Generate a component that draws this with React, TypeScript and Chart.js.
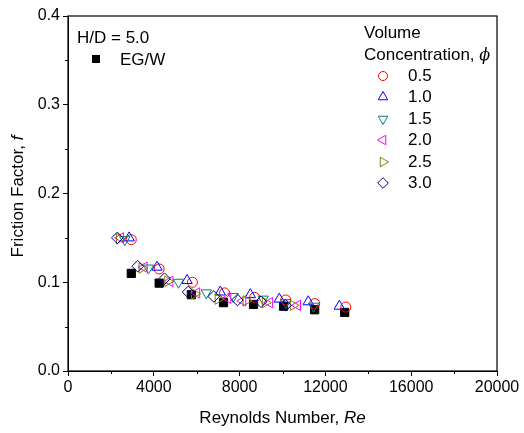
import React, { useEffect, useRef } from "react";
import { Chart, registerables } from "chart.js";
import { drawPoint } from "chart.js/helpers";

Chart.register(...registerables);

// ---- data ----
const xTickValues = [0, 4000, 8000, 12000, 16000, 20000];
const yTickValues = [0.0, 0.1, 0.2, 0.3, 0.4];

const egwRe = [2950, 4250, 5750, 7250, 8650, 10050, 11500, 12900];
const egwF = [0.110, 0.099, 0.086, 0.077, 0.075, 0.073, 0.069, 0.066];

const phi05Re = [2950, 4250, 5800, 7300, 8700, 10150, 11500, 12950];
const phi05F = [0.148, 0.115, 0.100, 0.088, 0.083, 0.080, 0.076, 0.072];

const phi10Re = [2850, 4150, 5550, 7100, 8500, 9850, 11200, 12650];
const phi10F = [0.150, 0.117, 0.102, 0.089, 0.086, 0.081, 0.078, 0.073];

const phi15Re = [2650, 3750, 5150, 6450, 7700, 9100, 10150, 11450];
const phi15F = [0.148, 0.116, 0.100, 0.088, 0.084, 0.081, 0.077, 0.073];

const phi20Re = [2450, 3550, 4750, 6000, 7450, 8150, 9400, 10700];
const phi20F = [0.150, 0.117, 0.101, 0.088, 0.082, 0.079, 0.077, 0.074];

const phi25Re = [2400, 3450, 4650, 5900, 7000, 8300, 9200, 10500];
const phi25F = [0.149, 0.116, 0.101, 0.087, 0.081, 0.079, 0.077, 0.074];

const phi30Re = [2300, 3250, 4500, 5600, 6800, 7900, 9000, 10150];
const phi30F = [0.150, 0.118, 0.104, 0.089, 0.084, 0.080, 0.078, 0.074];

const seriesLabels = ["0.5", "1.0", "1.5", "2.0", "2.5", "3.0"];

const FONT = "'Liberation Sans', Arial, sans-serif";

const toPts = (xs: number[], ys: number[]) => xs.map((x, i) => ({ x, y: ys[i] }));

type Sty = { style: any; rotation: number; color: string; radius: number };
const styles: Sty[] = [
  { style: "circle", rotation: 0, color: "#ff0000", radius: 5 },
  { style: "triangle", rotation: 0, color: "#0000ff", radius: 6 },
  { style: "triangle", rotation: 180, color: "#008080", radius: 6 },
  { style: "triangle", rotation: 270, color: "#ff00ff", radius: 6 },
  { style: "triangle", rotation: 90, color: "#808000", radius: 6 },
  { style: "rectRot", rotation: 0, color: "#000080", radius: 5.8 },
];

function drawMixed(ctx: CanvasRenderingContext2D, parts: [string, boolean][], size: number, cx: number, cy: number) {
  let total = 0;
  const widths = parts.map(([t, it]) => {
    ctx.font = `${it ? "italic " : ""}${size}px ${FONT}`;
    const w = ctx.measureText(t).width;
    total += w;
    return w;
  });
  let x = cx - total / 2;
  ctx.textBaseline = "middle";
  ctx.textAlign = "left";
  parts.forEach(([t, it], i) => {
    ctx.font = `${it ? "italic " : ""}${size}px ${FONT}`;
    ctx.fillText(t, x, cy);
    x += widths[i];
  });
}

const decorPlugin = {
  id: "decor",
  afterDraw(chart: any) {
    const { ctx, chartArea } = chart;
    const xs = chart.scales.x;
    const ys = chart.scales.y;
    ctx.save();
    // frame
    ctx.strokeStyle = "#000";
    ctx.lineWidth = 1.2;
    ctx.strokeRect(chartArea.left, chartArea.top, chartArea.right - chartArea.left, chartArea.bottom - chartArea.top);
    // minor ticks
    ctx.lineWidth = 1;
    ctx.beginPath();
    for (let v = 2000; v < 20000; v += 4000) {
      const px = Math.round(xs.getPixelForValue(v)) + 0.5;
      ctx.moveTo(px, chartArea.bottom);
      ctx.lineTo(px, chartArea.bottom + 3);
    }
    for (let v = 0.05; v < 0.4; v += 0.1) {
      const py = Math.round(ys.getPixelForValue(v)) + 0.5;
      ctx.moveTo(chartArea.left, py);
      ctx.lineTo(chartArea.left - 3, py);
    }
    ctx.stroke();

    ctx.fillStyle = "#000";
    // axis titles
    drawMixed(ctx, [["Reynolds Number, ", false], ["Re", true]], 17, (chartArea.left + chartArea.right) / 2, 418);
    ctx.save();
    ctx.translate(18, (chartArea.top + chartArea.bottom) / 2 + 3);
    ctx.rotate(-Math.PI / 2);
    drawMixed(ctx, [["Friction Factor, ", false], ["f", true]], 17, 0, 0);
    ctx.restore();

    // left legend
    ctx.textAlign = "left";
    ctx.textBaseline = "alphabetic";
    ctx.font = `17px ${FONT}`;
    ctx.fillText("H/D = 5.0", 77, 43);
    ctx.fillRect(92, 55, 8, 8);
    ctx.fillText("EG/W", 120, 65);

    // right legend
    ctx.fillText("Volume", 364, 38);
    ctx.font = `17px ${FONT}`;
    const cw = ctx.measureText("Concentration, ").width;
    ctx.fillText("Concentration, ", 364, 60);
    ctx.font = `italic 16px 'DejaVu Serif', serif`;
    ctx.fillText("\u03d5", 364 + cw, 60);

    const rowY = [76, 97, 119, 140, 162, 183];
    seriesLabels.forEach((lab, i) => {
      const s = styles[i];
      ctx.strokeStyle = s.color;
      ctx.fillStyle = "rgba(0,0,0,0)";
      ctx.lineWidth = 1;
      drawPoint(ctx, { pointStyle: s.style, rotation: s.rotation, radius: s.radius - 0.5, borderWidth: 1 } as any, 383, rowY[i]);
      ctx.fillStyle = "#000";
      ctx.font = `17px ${FONT}`;
      ctx.textBaseline = "middle";
      ctx.fillText(lab, 408, rowY[i]);
    });
    ctx.restore();
  },
};

export default function App() {
  const ref = useRef<HTMLCanvasElement | null>(null);
  useEffect(() => {
    if (!ref.current) return;
    const mk = (label: string, xs: number[], ys: number[], s: Sty) => ({
      label,
      data: toPts(xs, ys),
      pointStyle: s.style,
      rotation: s.rotation,
      pointRotation: s.rotation,
      pointRadius: s.radius,
      pointHoverRadius: s.radius,
      borderColor: s.color,
      backgroundColor: "rgba(0,0,0,0)",
      pointBorderWidth: 1,
      borderWidth: 1,
      showLine: false,
    });
    const datasets = [
      mk("3.0", phi30Re, phi30F, styles[5]),
      mk("2.5", phi25Re, phi25F, styles[4]),
      mk("2.0", phi20Re, phi20F, styles[3]),
      mk("1.5", phi15Re, phi15F, styles[2]),
      mk("1.0", phi10Re, phi10F, styles[1]),
      mk("0.5", phi05Re, phi05F, styles[0]),
      {
        label: "EG/W",
        data: toPts(egwRe, egwF),
        pointStyle: "rect",
        pointRadius: 5.8,
        pointHoverRadius: 5.8,
        borderColor: "#000",
        backgroundColor: "#000",
        pointBorderWidth: 1,
        showLine: false,
      },
    ];
    const chart = new Chart(ref.current, {
      type: "scatter",
      data: { datasets: datasets as any },
      options: {
        animation: false,
        responsive: false,
        devicePixelRatio: 1,
        layout: { padding: { top: 16, right: 27, left: 0, bottom: 0 } },
        plugins: { legend: { display: false }, tooltip: { enabled: false } },
        scales: {
          x: {
            type: "linear",
            min: 0,
            max: 20000,
            afterBuildTicks: (s: any) => {
              s.ticks = xTickValues.map((v) => ({ value: v }));
            },
            afterFit: (s: any) => {
              s.height = 62;
            },
            ticks: {
              color: "#000",
              font: { family: FONT, size: 16 },
              padding: 2,
              maxRotation: 0,
              autoSkip: false,
              callback: (v: any) => String(v),
            },
            grid: { drawOnChartArea: false, drawTicks: true, tickLength: 5, color: "#000" },
            border: { display: true, color: "#000", width: 1 },
          },
          y: {
            type: "linear",
            min: 0,
            max: 0.4,
            afterBuildTicks: (s: any) => {
              s.ticks = yTickValues.map((v) => ({ value: v }));
            },
            afterFit: (s: any) => {
              s.width = 68;
            },
            ticks: {
              color: "#000",
              font: { family: FONT, size: 16 },
              padding: 3,
              autoSkip: false,
              callback: (v: any) => Number(v).toFixed(1),
            },
            grid: { drawOnChartArea: false, drawTicks: true, tickLength: 5, color: "#000" },
            border: { display: true, color: "#000", width: 1 },
          },
        },
      },
      plugins: [decorPlugin],
    });
    return () => chart.destroy();
  }, []);
  return (
    <div style={{ position: "absolute", left: 0, top: 0, width: 524, height: 433, background: "#fff" }}>
      <canvas ref={ref} width={524} height={433} style={{ width: 524, height: 433, display: "block" }} />
    </div>
  );
}
